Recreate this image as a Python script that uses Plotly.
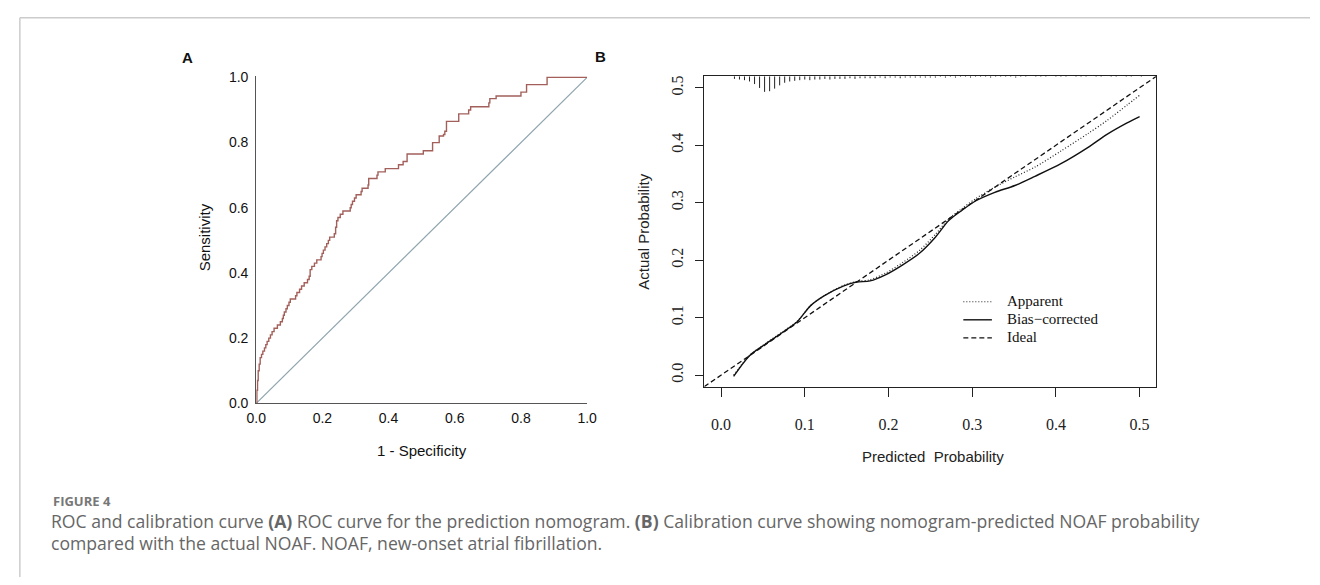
import plotly.graph_objects as go

W, H = 1320, 585

# ---------------- Panel A: ROC curve data ----------------
roc_fpr = [0.0, 0.002, 0.004, 0.006, 0.009, 0.012, 0.016, 0.020, 0.025, 0.029, 0.033, 0.038,
           0.043, 0.048, 0.054, 0.064, 0.073, 0.079, 0.082, 0.085, 0.090, 0.094, 0.099, 0.103,
           0.119, 0.123, 0.131, 0.137, 0.145, 0.155, 0.160, 0.163, 0.168, 0.176, 0.183, 0.196,
           0.199, 0.203, 0.208, 0.213, 0.218, 0.222, 0.236, 0.240, 0.243, 0.247, 0.254, 0.262,
           0.284, 0.287, 0.291, 0.297, 0.302, 0.317, 0.320, 0.338, 0.340, 0.365, 0.368, 0.390,
           0.430, 0.444, 0.456, 0.505, 0.533, 0.553, 0.566, 0.570, 0.575, 0.612, 0.642, 0.648,
           0.703, 0.706, 0.725, 0.800, 0.817, 0.879, 1.0]
roc_tpr = [0.0, 0.04, 0.07, 0.10, 0.12, 0.14, 0.15, 0.16, 0.17, 0.18, 0.19, 0.20,
           0.21, 0.22, 0.23, 0.24, 0.25, 0.26, 0.27, 0.28, 0.29, 0.30, 0.31, 0.32,
           0.33, 0.34, 0.35, 0.36, 0.37, 0.38, 0.39, 0.41, 0.42, 0.43, 0.44, 0.45,
           0.46, 0.47, 0.48, 0.49, 0.50, 0.51, 0.52, 0.54, 0.56, 0.57, 0.58, 0.59,
           0.60, 0.61, 0.62, 0.63, 0.64, 0.65, 0.66, 0.67, 0.69, 0.70, 0.71, 0.72,
           0.732, 0.742, 0.765, 0.775, 0.80, 0.82, 0.825, 0.835, 0.865, 0.888, 0.90, 0.91,
           0.922, 0.935, 0.943, 0.955, 0.978, 1.0, 1.0]
ref_x = [0.0, 1.0]
ref_y = [0.0, 1.0]
roc_ticks = [0.0, 0.2, 0.4, 0.6, 0.8, 1.0]
roc_ticktext = ["0.0", "0.2", "0.4", "0.6", "0.8", "1.0"]

# ---------------- Panel B: calibration data ----------------
cal_pred = [0.015, 0.034, 0.052, 0.075, 0.091, 0.107, 0.123, 0.146, 0.162, 0.178, 0.197,
            0.217, 0.237, 0.256, 0.272, 0.288, 0.304, 0.327, 0.351, 0.375, 0.406, 0.438,
            0.461, 0.485, 0.500]
cal_apparent = [0.0, 0.034, 0.054, 0.077, 0.094, 0.121, 0.138, 0.156, 0.163, 0.166, 0.178,
                0.196, 0.217, 0.245, 0.272, 0.290, 0.307, 0.327, 0.345, 0.362, 0.390, 0.420,
                0.443, 0.470, 0.487]
cal_bias = [-0.002, 0.034, 0.053, 0.076, 0.093, 0.121, 0.138, 0.155, 0.162, 0.164, 0.175,
            0.192, 0.212, 0.240, 0.269, 0.287, 0.303, 0.318, 0.330, 0.346, 0.368, 0.396,
            0.419, 0.439, 0.450]
ideal_x = [-0.02, 0.52]
ideal_y = [-0.02, 0.52]
cal_ticks = [0.0, 0.1, 0.2, 0.3, 0.4, 0.5]
cal_ticktext = ["0.0", "0.1", "0.2", "0.3", "0.4", "0.5"]
legend_names = ["Apparent", "Bias\u2212corrected", "Ideal"]

# spike histogram of predicted probabilities (rug along the top)
rug_x = [0.016, 0.022, 0.028, 0.034, 0.040, 0.046, 0.052, 0.058, 0.064, 0.070,
         0.076, 0.082, 0.088, 0.094, 0.100, 0.106, 0.112, 0.118, 0.124, 0.130,
         0.136, 0.142, 0.148, 0.154, 0.160, 0.166, 0.172, 0.178, 0.184, 0.190,
         0.196, 0.202, 0.208, 0.214, 0.220, 0.226, 0.232, 0.238, 0.244, 0.250,
         0.256, 0.262, 0.268, 0.274, 0.280, 0.286, 0.292, 0.298, 0.304, 0.310,
         0.316, 0.322, 0.328, 0.334, 0.340, 0.346, 0.352, 0.358, 0.364, 0.370,
         0.376, 0.382, 0.388, 0.394, 0.400, 0.406, 0.412, 0.418, 0.424, 0.430,
         0.436, 0.442, 0.448, 0.454, 0.460, 0.466, 0.472, 0.478, 0.484, 0.490,
         0.496, 0.502]
rug_counts = [4, 5, 6, 8, 12, 18, 24, 23, 19, 14,
              10, 8, 7, 6, 5, 6, 5, 5, 4, 5,
              4, 4, 4, 3, 4, 3, 3, 3, 3, 2,
              3, 2, 2, 3, 2, 2, 2, 2, 2, 2,
              2, 1, 2, 1, 2, 1, 1, 2, 1, 1,
              1, 2, 1, 1, 1, 1, 2, 1, 1, 0,
              1, 1, 1, 0, 1, 1, 1, 0, 1, 1,
              1, 0, 1, 1, 0, 1, 1, 0, 1, 1,
              0, 1]
rug_top = 0.52
rug_unit = 0.00113  # data units of y per count

# ---------------- figure ----------------
fig = go.Figure()

fig.add_trace(go.Scatter(x=ref_x, y=ref_y, mode="lines", line=dict(color="#8fa4ae", width=1.2),
                         xaxis="x", yaxis="y", showlegend=False, hoverinfo="skip"))
fig.add_trace(go.Scatter(x=roc_fpr, y=roc_tpr, mode="lines", name="ROC",
                         line=dict(color="#a3605b", width=1.4, shape="hv"),
                         xaxis="x", yaxis="y", showlegend=False))

# rug
rx, ry = [], []
for xv, c in zip(rug_x, rug_counts):
    if c <= 0:
        continue
    rx += [xv, xv, None]
    ry += [rug_top, rug_top - c * rug_unit, None]
fig.add_trace(go.Scatter(x=rx, y=ry, mode="lines", line=dict(color="#222", width=1),
                         xaxis="x2", yaxis="y2", showlegend=False, hoverinfo="skip"))

styles = [dict(color="#222", width=1.2, dash="1px,2px"),
          dict(color="#111", width=1.4, dash="solid"),
          dict(color="#111", width=1.3, dash="5px,3px")]

fig.add_trace(go.Scatter(x=cal_pred, y=cal_apparent, mode="lines", name=legend_names[0],
                         line=dict(**styles[0], shape="spline", smoothing=0.8),
                         xaxis="x2", yaxis="y2", showlegend=False))
fig.add_trace(go.Scatter(x=cal_pred, y=cal_bias, mode="lines", name=legend_names[1],
                         line=dict(**styles[1], shape="spline", smoothing=0.8),
                         xaxis="x2", yaxis="y2", showlegend=False))
fig.add_trace(go.Scatter(x=ideal_x, y=ideal_y, mode="lines", name=legend_names[2],
                         line=styles[2], xaxis="x2", yaxis="y2", showlegend=False))

def px_x(p):
    return p / W

def px_y(p):
    return 1 - p / H

sans = "Liberation Sans, Arial, sans-serif"
serif = "Liberation Serif, Times New Roman, serif"
cap_font = "Open Sans, sans-serif"

fig.update_layout(
    width=W, height=H,
    margin=dict(l=0, r=0, t=0, b=0),
    paper_bgcolor="white", plot_bgcolor="white",
    showlegend=False,
    xaxis=dict(domain=[px_x(250), px_x(586)], range=[0, 1], anchor="y",
               showline=True, linecolor="#555", linewidth=1, ticks="", showgrid=False, zeroline=False,
               tickvals=roc_ticks, ticktext=roc_ticktext,
               tickfont=dict(family=sans, size=14, color="#111"), ticklabelstandoff=2),
    yaxis=dict(domain=[px_y(407), px_y(71.5)], range=[0, 1.005], anchor="x",
               showline=True, linecolor="#555", linewidth=1, ticks="", showgrid=False, zeroline=False,
               tickvals=roc_ticks, ticktext=roc_ticktext,
               tickfont=dict(family=sans, size=14, color="#111"), ticklabelstandoff=4),
    xaxis2=dict(domain=[px_x(705), px_x(1164)], range=[-0.02, 0.52], anchor="y2",
                showline=True, mirror=True, linecolor="#222", linewidth=1.2,
                ticks="outside", ticklen=9, tickwidth=1.2, tickcolor="#222",
                showgrid=False, zeroline=False,
                tickvals=cal_ticks, ticktext=cal_ticktext,
                tickfont=dict(family=serif, size=16, color="#222"), ticklabelstandoff=14),
    yaxis2=dict(domain=[px_y(390), px_y(72)], range=[-0.02, 0.52], anchor="x2",
                showline=True, mirror=True, linecolor="#222", linewidth=1.2,
                ticks="outside", ticklen=8, tickwidth=1.2, tickcolor="#222",
                showgrid=False, zeroline=False, tickangle=-90,
                tickvals=cal_ticks, ticktext=cal_ticktext,
                tickfont=dict(family=serif, size=16, color="#222"), ticklabelstandoff=6),
)

annotations = [
    dict(text="<b>A</b>", x=px_x(180), y=px_y(53), font=dict(family=sans, size=15, color="#111")),
    dict(text="<b>B</b>", x=px_x(600), y=px_y(52), font=dict(family=sans, size=15, color="#111")),
    dict(text="Sensitivity", x=px_x(197), y=px_y(237), textangle=-90,
         font=dict(family=sans, size=15, color="#111")),
    dict(text="1 - Specificity", x=px_x(418), y=px_y(455),
         font=dict(family=sans, size=15, color="#111")),
    dict(text="Actual Probability", x=px_x(643), y=px_y(231), textangle=-90,
         font=dict(family=sans, size=15, color="#222")),
    dict(text="Predicted\u00a0 Probability", x=px_x(937), y=px_y(462),
         font=dict(family=sans, size=15, color="#222")),
    dict(text="<b>FIGURE 4</b>", x=px_x(42), y=px_y(507), xanchor="left",
         font=dict(family=cap_font, size=13, color="#777")),
    dict(text="ROC and calibration curve <b>(A)</b> ROC curve for the prediction nomogram. "
              "<b>(B)</b> Calibration curve showing nomogram-predicted NOAF probability",
         x=px_x(40), y=px_y(528), xanchor="left",
         font=dict(family=cap_font, size=17.6, color="#666")),
    dict(text="compared with the actual NOAF. NOAF, new-onset atrial fibrillation.",
         x=px_x(40), y=px_y(550), xanchor="left",
         font=dict(family=cap_font, size=17.6, color="#666")),
]

# manual legend for panel B (line samples + labels)
legend_rows = [303, 321.5, 340]
shapes = [
    dict(type="line", xref="paper", yref="paper", x0=px_x(10), x1=1, y0=px_y(12), y1=px_y(12),
         line=dict(color="#cccccc", width=1.5)),
    dict(type="line", xref="paper", yref="paper", x0=px_x(10), x1=px_x(10), y0=px_y(12), y1=0,
         line=dict(color="#cccccc", width=1.5)),
]
for name, st, ry_ in zip(legend_names, styles, legend_rows):
    shapes.append(dict(type="line", xref="paper", yref="paper",
                       x0=px_x(968), x1=px_x(997), y0=px_y(ry_), y1=px_y(ry_),
                       line=dict(color=st["color"], width=st["width"], dash=st["dash"])))
    annotations.append(dict(text=name, x=px_x(1010), y=px_y(ry_ - 1), xanchor="left",
                            font=dict(family=serif, size=15, color="#111")))

for a in annotations:
    a.setdefault("xanchor", "center")
    a.update(xref="paper", yref="paper", yanchor="middle", showarrow=False)
fig.update_layout(annotations=annotations, shapes=shapes)

fig.write_html(
    "out.html",
    config={"displayModeBar": False},
    post_script="document.body.style.margin='0';document.body.style.padding='0';"
                "document.documentElement.style.overflow='hidden';",
)
